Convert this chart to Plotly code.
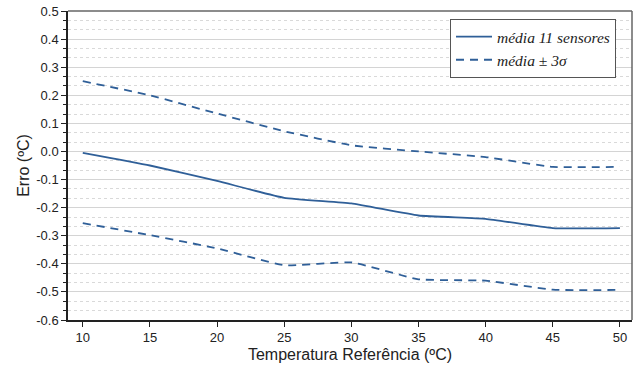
import plotly.graph_objects as go

temps = [10, 15, 20, 25, 30, 35, 40, 45, 50]
media = [-0.005, -0.05, -0.105, -0.165, -0.185, -0.228, -0.24, -0.273, -0.273]
upper = [0.25, 0.2, 0.135, 0.072, 0.022, 0.0, -0.02, -0.055, -0.055]
lower = [-0.255, -0.298, -0.345, -0.405, -0.395, -0.455, -0.46, -0.492, -0.493]

y_ticks = [0.5, 0.4, 0.3, 0.2, 0.1, 0.0, -0.1, -0.2, -0.3, -0.4, -0.5, -0.6]
y_labels = ["0.5", "0.4", "0.3", "0.2", "0.1", "0.0", "-0.1", "-0.2", "-0.3", "-0.4", "-0.5", "-0.6"]
x_ticks = [10, 15, 20, 25, 30, 35, 40, 45, 50]

color = "#2F5F98"
dash = "8px,6px"

fig = go.Figure()
fig.add_trace(go.Scatter(x=temps, y=media, mode="lines", name="<i>média 11 sensores</i>",
                         line=dict(color=color, width=1.8, shape="spline", smoothing=0.4)))
fig.add_trace(go.Scatter(x=temps, y=upper, mode="lines", name="<i>média ± 3σ</i>", legendgroup="s",
                         line=dict(color=color, width=1.8, dash=dash, shape="spline", smoothing=0.4)))
fig.add_trace(go.Scatter(x=temps, y=lower, mode="lines", name="<i>média ± 3σ</i>", legendgroup="s",
                         showlegend=False,
                         line=dict(color=color, width=1.8, dash=dash, shape="spline", smoothing=0.4)))

fig.update_layout(
    width=635, height=372,
    margin=dict(l=68, r=3, t=11, b=52),
    plot_bgcolor="white", paper_bgcolor="white",
    font=dict(family="Liberation Sans, Arial", size=13, color="#222"),
    legend=dict(x=(450 - 68) / 564, y=(320 - 19) / 309, xanchor="left", yanchor="top",
                bgcolor="white", bordercolor="#555", borderwidth=1,
                font=dict(family="Liberation Serif, Times New Roman", size=15.5, color="#222"),
                itemwidth=36, tracegroupgap=0),
    xaxis=dict(range=[8.9, 50.9], tickvals=x_ticks, ticks="outside", ticklen=5, tickcolor="#222",
               showgrid=False, zeroline=False, showline=True, linecolor="#222", linewidth=1.5,
               automargin=False,
               title=dict(text="Temperatura Referência (ºC)", font=dict(size=16), standoff=4)),
    yaxis=dict(range=[-0.6, 0.5], tickvals=y_ticks, ticktext=y_labels, ticks="outside", ticklen=5,
               tickcolor="#222", showgrid=True, gridcolor="#d4d4d4", gridwidth=1, zeroline=False,
               showline=True, linecolor="#222", linewidth=1.5, automargin=False,
               ticklabeloverflow="allow",
               minor=dict(tick0=-0.6, dtick=0.1 / 3, ticks="outside", ticklen=3, tickcolor="#222",
                          showgrid=True, gridcolor="#d9d9d9", griddash="dot", gridwidth=1),
               title=dict(text="Erro (ºC)", font=dict(size=16), standoff=3)),
)
# top and right frame lines
fig.add_shape(type="line", xref="paper", yref="paper", x0=0, x1=1, y0=1, y1=1,
              line=dict(color="#666", width=1.5))
fig.add_shape(type="line", xref="paper", yref="paper", x0=1, x1=1, y0=0, y1=1,
              line=dict(color="#666", width=1.5))

fig.write_html("out.html", config={"displayModeBar": False},
               post_script="document.body.style.margin='0';")
